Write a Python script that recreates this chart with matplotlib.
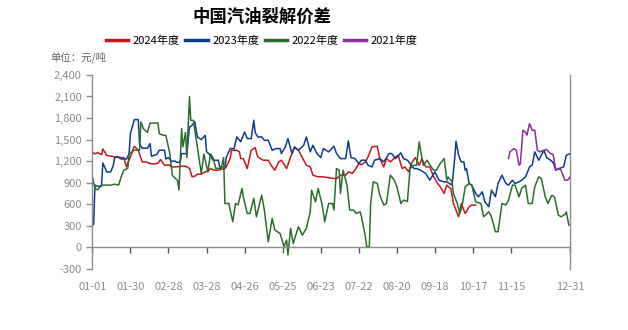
import matplotlib.pyplot as plt

plt.rcParams['font.family'] = ['Noto Sans CJK SC', 'DejaVu Sans']

# day of year (0 = 01-01) and spread values, yuan/ton
days_2024 = [0, 2, 4, 7, 8, 11, 14, 17, 20, 24, 26, 28, 32, 35, 38, 41, 44, 47, 50, 52,
             55, 58, 61, 64, 66, 69, 71, 74, 76, 78, 80, 83, 86, 88, 90, 93, 96, 99, 101,
             102, 105, 106, 110, 112, 113, 115, 118, 121, 124, 126, 130, 134, 137, 139,
             142, 144, 148, 151, 154, 157, 161, 163, 166, 168, 172, 176, 180, 184, 186,
             189, 193, 195, 198, 200, 203, 205, 208, 210, 213, 217, 219, 222, 224, 227,
             231, 233, 236, 238, 241, 243, 246, 249, 251, 254, 257, 260, 263, 265, 268,
             270, 273, 274, 275, 277, 279, 281, 284, 287, 289, 292]
vals_2024 = [1330, 1300, 1320, 1290, 1370, 1280, 1270, 1260, 1250, 1250, 1120, 1213, 1408,
             1352, 1190, 1190, 1167, 1160, 1170, 1222, 1143, 1150, 1120, 1120, 1125, 1130,
             1130, 1100, 982, 990, 1019, 1019, 1051, 1060, 1097, 1074, 1074, 1090, 1097,
             1120, 1236, 1352, 1352, 1330, 1236, 1236, 1097, 1352, 1389, 1259, 1213, 1213,
             1120, 1074, 1190, 1213, 1097, 1259, 1389, 1352, 1213, 1143, 1120, 1005, 982,
             982, 970, 958, 958, 1005, 1005, 1051, 1030, 1074, 1167, 1150, 1190, 1259, 1398,
             1408, 1236, 1120, 1236, 1190, 1259, 1282, 1097, 1120, 1051, 1167, 1250, 1143,
             1236, 1120, 1120, 982, 889, 843, 750, 866, 819, 727, 611, 519, 426, 611, 472,
             565, 588, 588]

days_2023 = [0, 1, 2, 4, 7, 8, 11, 14, 16, 17, 20, 22, 26, 28, 29, 32, 35, 36, 38, 42, 44,
             45, 49, 51, 55, 56, 58, 60, 63, 65, 67, 68, 72, 74, 76, 78, 80, 83, 86, 87, 89,
             92, 96, 97, 101, 102, 105, 108, 110, 113, 116, 118, 121, 123, 124, 126, 129,
             131, 134, 137, 140, 143, 144, 147, 149, 152, 154, 157, 161, 163, 166, 168, 171,
             174, 176, 180, 184, 186, 189, 193, 195, 197, 200, 203, 205, 208, 210, 213, 215,
             219, 222, 226, 228, 231, 235, 237, 240, 242, 245, 247, 250, 254, 257, 261, 264,
             268, 270, 274, 276, 277, 279, 281, 283, 284, 285, 287, 289, 292, 294, 297, 299,
             302, 304, 307, 309, 312, 315, 317, 320, 322, 325, 327, 330, 333, 335, 337, 340,
             344, 346, 349, 351, 353, 356, 359, 361, 364]
vals_2023 = [310, 320, 866, 850, 850, 1176, 1050, 1050, 1140, 1250, 1260, 1230, 1230, 1300,
             1583, 1778, 1778, 1444, 1380, 1380, 1444, 1270, 1290, 1352, 1352, 1230, 1250,
             1200, 1200, 1180, 1190, 1305, 1305, 1676, 1700, 1746, 1537, 1500, 1560, 1330,
             1300, 1213, 1213, 1120, 1120, 1250, 1375, 1375, 1537, 1470, 1607, 1514, 1514,
             1769, 1600, 1537, 1537, 1490, 1490, 1352, 1375, 1375, 1306, 1398, 1514, 1306,
             1398, 1352, 1421, 1537, 1329, 1421, 1306, 1250, 1375, 1329, 1408, 1306, 1236,
             1236, 1482, 1250, 1236, 1167, 1213, 1213, 1143, 1120, 1213, 1236, 1190, 1306,
             1306, 1236, 1315, 1236, 1213, 1167, 1097, 1097, 1074, 1028, 935, 1051, 935, 912,
             912, 866, 1236, 1477, 1282, 1190, 1190, 1074, 1097, 889, 866, 750, 704, 773,
             634, 565, 796, 704, 889, 1005, 889, 866, 935, 889, 912, 935, 982, 1120, 1143,
             1329, 1213, 1352, 1250, 1213, 1180, 1074, 1100, 1120, 1282, 1306]

days_2022 = [0, 2, 4, 7, 11, 14, 17, 20, 22, 24, 27, 28, 32, 36, 37, 39, 42, 44, 47, 50, 51,
             54, 56, 59, 61, 65, 66, 68, 69, 71, 72, 74, 75, 77, 80, 83, 85, 88, 90, 92, 94,
             98, 100, 101, 104, 105, 107, 109, 111, 114, 115, 118, 120, 123, 125, 129, 131,
             134, 137, 139, 143, 146, 148, 149, 151, 153, 157, 160, 163, 166, 167, 170, 172,
             175, 177, 180, 183, 184, 186, 188, 189, 191, 194, 196, 199, 201, 204, 205, 208,
             209, 211, 212, 214, 217, 219, 222, 224, 227, 230, 232, 235, 237, 240, 242, 245,
             247, 249, 250, 252, 255, 257, 260, 262, 265, 268, 270, 271, 274, 275, 278, 280,
             282, 284, 287, 289, 292, 296, 298, 302, 304, 307, 309, 312, 315, 317, 320, 322,
             325, 327, 330, 332, 335, 337, 340, 342, 345, 347, 350, 352, 355, 357, 360, 361,
             363]
vals_2022 = [982, 820, 800, 866, 866, 866, 880, 866, 982, 1074, 1100, 1306, 1352, 1352,
             1746, 1650, 1600, 1730, 1730, 1730, 1583, 1560, 1560, 1306, 1000, 930, 796,
             1653, 1400, 1600, 1250, 2100, 1768, 1768, 1398, 1028, 1300, 1050, 1300, 1250,
             1100, 1100, 1250, 611, 611, 519, 357, 611, 590, 820, 704, 472, 472, 681, 426,
             727, 520, 79, 403, 241, 194, 9, 102, -106, 264, 56, 287, 171, 264, 495, 796, 634,
             820, 600, 357, 611, 611, 519, 1097, 1074, 750, 1074, 866, 519, 519, 472, 495,
             426, 148, 9, 9, 611, 912, 890, 727, 588, 611, 1005, 935, 843, 611, 657, 640,
             1097, 1143, 1143, 1468, 1352, 1143, 1213, 1150, 1074, 1074, 1167, 1236, 935, 980,
             912, 750, 611, 472, 611, 843, 889, 866, 634, 611, 426, 495, 426, 218, 218, 611,
             590, 657, 866, 866, 704, 820, 866, 611, 611, 843, 982, 958, 704, 611, 727, 700,
             449, 426, 460, 495, 310]

days_2021 = [317, 318, 321, 323, 325, 326, 328, 330, 331, 333, 335, 337, 339, 341, 344, 346,
             349, 351, 353, 355, 357, 360, 362, 364]
vals_2021 = [1236, 1329, 1375, 1350, 1143, 1160, 1630, 1600, 1560, 1722, 1630, 1630, 1352,
             1330, 1352, 1361, 1306, 1290, 1074, 1100, 1074, 935, 935, 982]

tick_days = [0, 29, 58, 87, 116, 145, 174, 203, 232, 261, 290, 319, 364]
tick_labels = ['01-01', '01-30', '02-28', '03-28', '04-26', '05-25', '06-23',
               '07-22', '08-20', '09-18', '10-17', '11-15', '12-31']

fig = plt.figure(figsize=(6.28, 3.3), dpi=100)
ax = fig.add_axes([0.147, 0.185, 0.761, 0.588])

ax.plot(days_2024, vals_2024, color='#c8161d', lw=1.1, label='2024年度')
ax.plot(days_2023, vals_2023, color='#0b3d8f', lw=1.1, label='2023年度')
ax.plot(days_2022, vals_2022, color='#2a6e2c', lw=1.1, label='2022年度')
ax.plot(days_2021, vals_2021, color='#8d2d9f', lw=1.1, label='2021年度')

ax.set_xlim(0, 364)
ax.set_ylim(-300, 2400)
ax.set_yticks(range(-300, 2401, 300))
ax.set_yticklabels([f'{v:,}' for v in range(-300, 2401, 300)])
ax.set_xticks(tick_days)
ax.set_xticklabels(tick_labels)

grey = '#8c8c8c'
ax.spines['top'].set_visible(False)
ax.spines['bottom'].set_position(('data', 0))
for s in ['left', 'right', 'bottom']:
    ax.spines[s].set_color(grey)
    ax.spines[s].set_linewidth(1)
ax.tick_params(axis='y', colors=grey, labelsize=8, length=4, width=1)
ax.tick_params(axis='x', colors='#555555', labelcolor=grey, labelsize=8,
               length=4, width=1, pad=21)

fig.text(0.417, 0.95, '中国汽油裂解价差', ha='center', va='center',
         fontsize=12.5, fontweight='bold')
fig.legend(loc='center', bbox_to_anchor=(0.417, 0.876), ncol=4, frameon=False,
           fontsize=8, handlelength=2.0, handletextpad=0.4, columnspacing=0.5)
for line in fig.legends[0].get_lines():
    line.set_linewidth(2.5)
fig.text(0.08, 0.827, '单位：元/吨', fontsize=7.5, color='#666666', va='center')

fig.savefig('out.png', dpi=100)
